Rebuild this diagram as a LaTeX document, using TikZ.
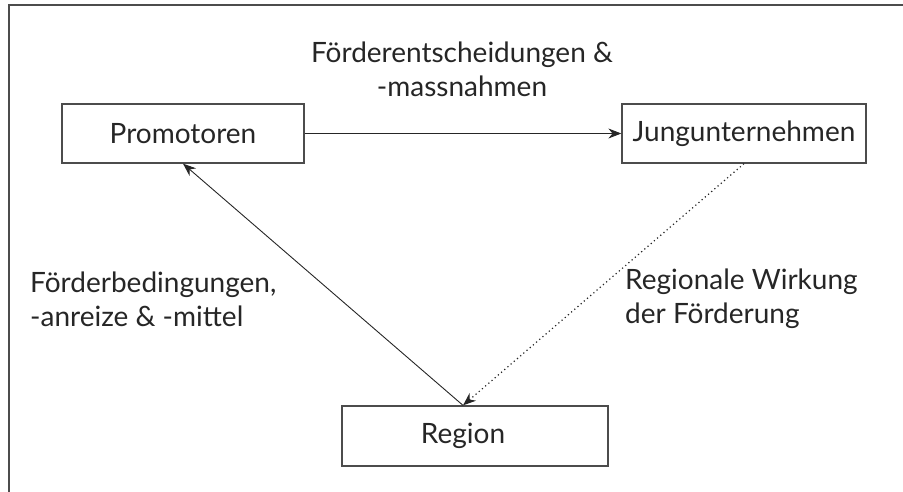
\documentclass[tikz,border=0pt]{standalone}
\usepackage{fontspec}
\setmainfont{Lato}
\usetikzlibrary{arrows.meta}
\tikzset{
  box/.style={draw=black!70, line width=1.3pt, minimum width=242pt, minimum height=59pt, inner sep=0pt},
  lbl/.style={inner sep=0pt},
  flow/.style={->, draw=black!85, line width=0.9pt}
}
\begin{document}
\begin{tikzpicture}[x=1pt,y=-1pt,>={Stealth[length=13pt,width=10pt]},
  every node/.style={font=\fontsize{28}{34}\selectfont, text=black!85}]
\useasboundingbox (0,0) rectangle (903,492);
\draw[black!70, line width=1.5pt] (903,5) -- (9,5) -- (9,492);

% actors
\node[box] (prom) at (183,133.5){Promotoren};
\node[box,minimum width=244pt] (jung) at (744,133.5){Jungunternehmen};
\node[box,minimum width=266pt,minimum height=60pt] (region) at (475,436){};
\node[lbl] (regtxt) at (463,436){Region};

% flow labels
\node[lbl,align=center] (massn) at (462,69){Förderentscheidungen \&\\-massnahmen};
\node[lbl,align=left,anchor=west] (bed) at (30,299){Förderbedingungen,\\-anreize \& -mittel};
\node[lbl,align=left,anchor=west] (wirk) at (625,299){Regionale Wirkung\\der Förderung};

\draw[flow] (prom.east) -- (jung.west);
\draw[flow] ([xshift=-12pt]region.north) -- (prom.south);
\draw[flow, line width=1.2pt, dash pattern=on 1.2pt off 3pt] (jung.south) -- ([xshift=-12pt]region.north);

\end{tikzpicture}
\end{document}
